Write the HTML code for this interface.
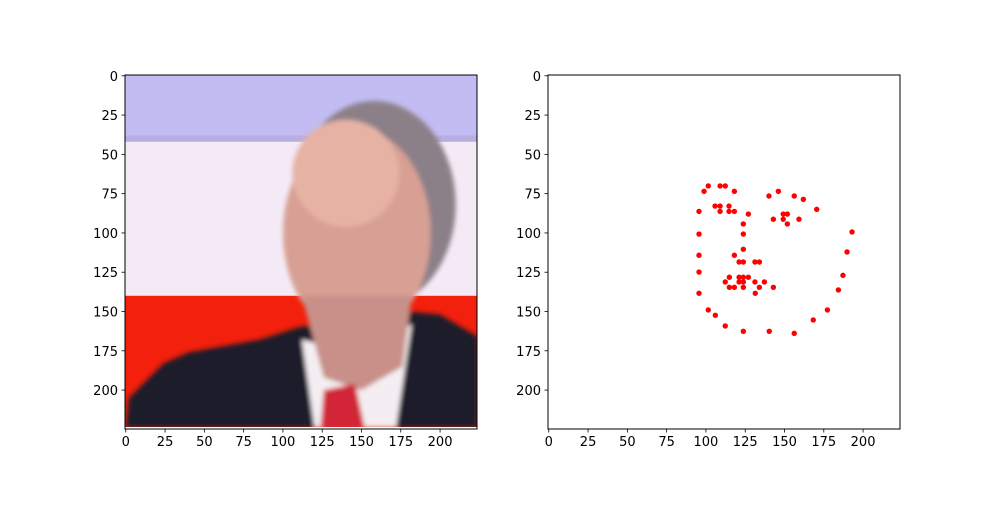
<!DOCTYPE html>
<html><head><meta charset="utf-8"><style>
html,body{margin:0;padding:0;background:#fff;}
svg text{font-family:"DejaVu Sans","Liberation Sans",sans-serif;font-size:13px;fill:#000;}
</style></head><body>
<svg id="fig" width="1000" height="500" viewBox="0 0 1000 500" xmlns="http://www.w3.org/2000/svg">
<rect width="1000" height="500" fill="#fff"/>
<defs>
<clipPath id="imgclip"><rect x="-0.5" y="-0.5" width="224" height="224"/></clipPath>
<filter id="blur"><feGaussianBlur stdDeviation="1.5"/></filter>
</defs>
<g transform="translate(125.8,75.8) scale(1.5714)">
<g clip-path="url(#imgclip)">
<rect x="-1" y="-1" width="226" height="226" fill="#f4eaf6"/>
<rect x="-1" y="-1" width="226" height="42" fill="#c2bcf2"/>
<rect x="-1" y="38" width="226" height="4" fill="#b8aee0"/>
<rect x="-1" y="140" width="226" height="90" fill="#f2200c"/>
<g filter="url(#blur)">
<ellipse cx="158" cy="82" rx="52" ry="66" fill="#8c8088"/>
<ellipse cx="147" cy="100" rx="47" ry="66" fill="#d8a094"/>
<ellipse cx="140" cy="62" rx="34" ry="34" fill="#e6b2a4"/>
<polygon points="0,224 2,205 24,183 40,176 85,168 110,160 180,150 200,152 224,166 224,224" fill="#1a1a2a"/>
<polygon points="112,168 120,224 172,224 182,158 160,170 130,172" fill="#f4eef2"/>
<polygon points="112,140 182,140 176,185 150,200 126,192" fill="#c89088"/>
<polygon points="126,200 146,196 152,224 124,224" fill="#d22838"/>
</g>
</g>
</g>
<rect x="125" y="75" width="352" height="354" fill="none" stroke="#000" stroke-width="1"/>
<rect x="548" y="75" width="352" height="354" fill="none" stroke="#000" stroke-width="1"/>
<g id="ticksL"></g>
<g id="ticksR"></g>
<g id="pts"></g>
</svg>
<script>
const tickValues = [0, 25, 50, 75, 100, 125, 150, 175, 200];
const tickLabels = ["0", "25", "50", "75", "100", "125", "150", "175", "200"];
const landmarkX = [101.5,98.8,109.0,112.3,118.1,140.1,146.1,156.2,162.0,170.5,95.6,105.8,109.0,114.7,109.0,114.7,118.1,127.0,149.2,151.8,142.9,149.2,151.8,159.2,123.8,95.6,123.8,193.0,123.8,95.6,118.1,189.8,121.1,123.8,131.2,134.0,95.6,187.2,114.9,121.1,123.8,127.0,112.3,121.1,123.8,131.2,137.2,114.9,118.1,123.8,134.0,142.9,131.4,95.6,184.3,101.5,106.0,177.3,168.3,112.3,123.8,140.3,156.2];
const landmarkY = [70.1,73.5,70.1,70.1,73.5,76.5,73.5,76.5,78.6,85.0,86.3,82.9,82.9,82.9,86.3,86.3,86.3,88.0,88.0,88.0,91.3,91.3,94.3,91.3,94.3,100.7,100.7,99.4,110.4,114.2,114.2,112.1,118.5,118.5,118.5,118.5,124.9,127.0,128.2,128.2,128.2,128.2,131.2,131.2,131.2,131.2,131.2,134.6,134.6,134.6,134.6,134.6,138.4,138.4,136.3,149.0,152.4,149.0,155.4,159.2,162.6,162.6,163.9];
const NS = "http://www.w3.org/2000/svg";
const S = 352/224;
function sx(left, v){ return left + (v + 0.5) * S; }
function sy(v){ return 75 + (v + 0.5) * S; }
function mk(tag, attrs, parent){ const e=document.createElementNS(NS,tag); for(const k in attrs) e.setAttribute(k,attrs[k]); parent.appendChild(e); return e; }
function drawTicks(g, left){
  tickValues.forEach((v,i)=>{
    const x = sx(left, v), y = sy(v);
    const t1 = mk("line",{x1:x,x2:x,y1:429,y2:432.5,stroke:"#000","stroke-width":0.8},g);
    
    
    const l1 = mk("text",{x:x,y:446,"text-anchor":"middle"},g);
    l1.textContent = tickLabels[i];
    
    
    const t2 = mk("line",{x1:left-3.5,x2:left,y1:y,y2:y,stroke:"#000","stroke-width":0.8},g);
    
    
    const l2 = mk("text",{x:left-7,y:y+5,"text-anchor":"end"},g);
    l2.textContent = tickLabels[i];
    
    
  });
}
drawTicks(document.getElementById("ticksL"), 125);
drawTicks(document.getElementById("ticksR"), 548);
const pg = document.getElementById("pts");
landmarkX.forEach((x,i)=>{
  const c = mk("circle",{cx:sx(548,x),cy:sy(landmarkY[i]),r:2.7,fill:"#ff0000"},pg);
  
  
});
</script>
</body></html>
